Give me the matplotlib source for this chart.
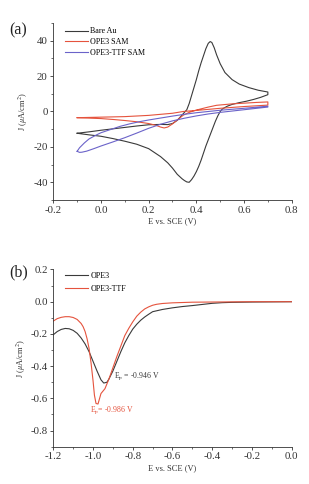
import matplotlib
matplotlib.use("Agg")
import matplotlib.pyplot as plt
from matplotlib.ticker import MultipleLocator

plt.rcParams['font.family'] = ['Liberation Serif', 'DejaVu Serif']
plt.rcParams['mathtext.fontset'] = 'stix'

# ---- Panel (a): cyclic voltammograms ----
au_fwd_x = [-0.10, -0.05, 0.00, 0.05, 0.10, 0.15, 0.20, 0.25, 0.28, 0.30, 0.32, 0.34, 0.35, 0.36, 0.37,
            0.38, 0.39, 0.40, 0.41, 0.42, 0.43, 0.44, 0.45, 0.458, 0.465, 0.475, 0.485, 0.50, 0.52, 0.55,
            0.58, 0.62, 0.66, 0.70]
au_fwd_y = [-12.3, -11.5, -10.6, -9.8, -9.0, -8.2, -7.5, -7.3, -7.4, -6.8, -5.0, -2.0, -0.5, 1.0, 4.5,
            9.0, 13.5, 18.0, 23.0, 27.5, 31.5, 35.5, 38.5, 39.5, 39.0, 36.0, 32.0, 27.0, 22.0, 18.0,
            15.5, 13.5, 12.0, 11.0]
au_rev_x = [0.70, 0.67, 0.64, 0.61, 0.58, 0.55, 0.53, 0.51, 0.50, 0.49, 0.48, 0.47, 0.46, 0.45, 0.44,
            0.43, 0.42, 0.41, 0.40, 0.39, 0.38, 0.37, 0.36, 0.35, 0.34, 0.32, 0.30, 0.28, 0.25, 0.20,
            0.15, 0.10, 0.05, 0.00, -0.05, -0.10]
au_rev_y = [9.5, 8.0, 6.8, 5.8, 5.0, 4.0, 3.0, 1.5, 0.0, -2.5, -5.5, -9.0, -12.5, -16.0, -19.5,
            -23.5, -27.5, -31.0, -34.0, -36.5, -38.5, -40.0, -39.8, -39.0, -38.0, -35.5, -32.0, -29.0, -25.5, -21.0,
            -18.5, -16.8, -15.3, -14.0, -13.2, -12.3]

ope3_a_x = [-0.10, 0.00, 0.05, 0.10, 0.15, 0.20, 0.23, 0.25, 0.265, 0.28, 0.30, 0.32, 0.345, 0.37, 0.40,
            0.45, 0.485, 0.55, 0.60, 0.65, 0.70]
ope3_a_y = [-3.5, -4.0, -4.5, -5.1, -5.8, -6.8, -7.8, -8.8, -9.3, -8.8, -7.0, -4.8, -2.1, -0.5, 0.8,
            2.5, 3.5, 4.3, 4.7, 5.1, 5.4]
ope3_b_x = [0.70, 0.60, 0.50, 0.40, 0.345, 0.30, 0.20, 0.10, 0.00, -0.10]
ope3_b_y = [3.6, 2.8, 1.8, 0.6, 0.0, -1.0, -2.2, -2.9, -3.2, -3.5]

ttf_a_x = [-0.10, -0.09, -0.07, -0.05, -0.02, 0.00, 0.04, 0.08, 0.12, 0.16, 0.20, 0.25, 0.30, 0.35,
           0.40, 0.50, 0.60, 0.70]
ttf_a_y = [-22.5, -20.5, -17.8, -15.5, -13.3, -12.0, -10.2, -8.4, -7.0, -5.8, -4.8, -3.7, -2.6, -1.6,
           -0.7, 0.7, 1.8, 3.0]
ttf_b_x = [0.70, 0.60, 0.50, 0.45, 0.40, 0.35, 0.30, 0.25, 0.20, 0.15, 0.10, 0.05, 0.00, -0.03, -0.06,
           -0.08, -0.09, -0.10]
ttf_b_y = [2.5, 1.0, -0.5, -1.4, -2.5, -3.8, -5.3, -7.2, -9.5, -12.2, -14.8, -17.2, -19.5, -21.0, -22.4,
           -23.0, -23.1, -22.5]

# ---- Panel (b): reductive desorption ----
b_ope3_x = [-1.20, -1.18, -1.16, -1.14, -1.12, -1.10, -1.08, -1.06, -1.04, -1.02, -1.00, -0.98, -0.96,
            -0.946, -0.93, -0.92, -0.90, -0.88, -0.86, -0.84, -0.82, -0.80, -0.78, -0.76, -0.74, -0.72,
            -0.70, -0.65, -0.60, -0.55, -0.50, -0.45, -0.40, -0.35, -0.30, -0.20, -0.10, 0.00]
b_ope3_y = [-0.205, -0.185, -0.172, -0.166, -0.168, -0.178, -0.196, -0.225, -0.262, -0.31, -0.37, -0.43,
            -0.485, -0.505, -0.50, -0.48, -0.43, -0.37, -0.31, -0.255, -0.21, -0.17, -0.14, -0.115, -0.095,
            -0.078, -0.062, -0.048, -0.038, -0.03, -0.024, -0.017, -0.01, -0.006, -0.004, -0.002, -0.001, 0.0]
b_ttf_x = [-1.20, -1.18, -1.16, -1.14, -1.12, -1.10, -1.08, -1.06, -1.05, -1.04, -1.03, -1.02, -1.01,
           -1.00, -0.993, -0.985, -0.975, -0.96, -0.95, -0.94, -0.93, -0.92, -0.90, -0.88, -0.86, -0.84,
           -0.82, -0.80, -0.78, -0.76, -0.74, -0.72, -0.70, -0.68, -0.65, -0.60, -0.55, -0.50, -0.40,
           -0.30, -0.20, -0.10, 0.0]
b_ttf_y = [-0.12, -0.105, -0.097, -0.093, -0.093, -0.098, -0.11, -0.135, -0.155, -0.185, -0.23, -0.29,
           -0.38, -0.49, -0.58, -0.632, -0.635, -0.57, -0.555, -0.54, -0.51, -0.48, -0.41, -0.34, -0.275,
           -0.21, -0.165, -0.125, -0.09, -0.065, -0.045, -0.032, -0.022, -0.016, -0.011, -0.007, -0.005,
           -0.003, -0.002, -0.001, 0.0, 0.0, 0.0]

peak_ope3 = (-0.946, -0.505)
peak_ttf = (-0.986, -0.635)

c_black = '#3a3a3a'
c_red = '#e5533d'
c_blue = '#6b63c9'
lw = 0.8

fig = plt.figure(figsize=(3.09, 4.84), dpi=100)
ax1 = fig.add_axes([0.1725, 0.5868, 0.7715, 0.3657])
ax2 = fig.add_axes([0.1725, 0.0771, 0.7715, 0.3661])

for ax in (ax1, ax2):
    ax.spines['top'].set_visible(False)
    ax.spines['right'].set_visible(False)
    for s in ('left', 'bottom'):
        ax.spines[s].set_linewidth(0.6)
        ax.spines[s].set_color('#333333')
    ax.tick_params(which='major', direction='out', length=2.5, width=0.6, labelsize=7.8, pad=1.5,
                   colors='#333333')
    ax.tick_params(which='minor', direction='out', length=1.5, width=0.5, colors='#333333')

# Panel (a)
ax1.plot(au_fwd_x + au_rev_x, au_fwd_y + au_rev_y, color=c_black, lw=lw, label='Bare Au')
ax1.plot(ope3_a_x + ope3_b_x, ope3_a_y + ope3_b_y, color=c_red, lw=lw, label='OPE3 SAM')
ax1.plot(ttf_a_x + ttf_b_x, ttf_a_y + ttf_b_y, color=c_blue, lw=lw, label='OPE3-TTF SAM')
ax1.set_xlim(-0.2, 0.8)
ax1.set_ylim(-50, 50)
ax1.xaxis.set_minor_locator(MultipleLocator(0.1))
ax1.yaxis.set_minor_locator(MultipleLocator(10))
ax1.set_xticks([-0.2, 0.0, 0.2, 0.4, 0.6, 0.8])
ax1.set_xticklabels(['-0.2', '0.0', '0.2', '0.4', '0.6', '0.8'])
ax1.set_yticks([-40, -20, 0, 20, 40])
ax1.set_yticklabels(['-40', '-20', '0', '20', '40'])
ax1.set_xlabel('E vs. SCE (V)', fontsize=6, labelpad=2, color='#333333')
ax1.set_ylabel(r'J ($\mu$A/cm$^2$)', fontsize=6, labelpad=2, color='#333333')
ax1.legend(loc='upper left', bbox_to_anchor=(0.05, 0.975), frameon=False, fontsize=5.8,
           handlelength=2.8, handletextpad=0.3, labelspacing=0.35, borderpad=0, borderaxespad=0)
fig.text(0.03, 0.937, '(a)', fontsize=11.5, ha='left', va='center', color='#222222')

# Panel (b)
ax2.plot(b_ope3_x, b_ope3_y, color=c_black, lw=lw, label='OPE3')
ax2.plot(b_ttf_x, b_ttf_y, color=c_red, lw=lw, label='OPE3-TTF')
ax2.set_xlim(-1.2, 0.0)
ax2.set_ylim(-0.9, 0.2)
ax2.xaxis.set_minor_locator(MultipleLocator(0.1))
ax2.yaxis.set_minor_locator(MultipleLocator(0.1))
ax2.set_xticks([-1.2, -1.0, -0.8, -0.6, -0.4, -0.2, 0.0])
ax2.set_xticklabels(['-1.2', '-1.0', '-0.8', '-0.6', '-0.4', '-0.2', '0.0'])
ax2.set_yticks([-0.8, -0.6, -0.4, -0.2, 0.0, 0.2])
ax2.set_yticklabels(['-0.8', '-0.6', '-0.4', '-0.2', '0.0', '0.2'])
ax2.set_xlabel('E vs. SCE (V)', fontsize=6, labelpad=2, color='#333333')
ax2.set_ylabel(r'J ($\mu$A/cm$^2$)', fontsize=6, labelpad=2, color='#333333')
ax2.legend(loc='upper left', bbox_to_anchor=(0.05, 0.985), frameon=False, fontsize=5.8,
           handlelength=2.8, handletextpad=0.3, labelspacing=0.55, borderpad=0, borderaxespad=0)
ax2.annotate(r'E$_{\rm p}$ = -0.946 V', xy=peak_ope3, xytext=(-0.895, -0.462), fontsize=5.6,
             color=c_black, va='center', ha='left')
ax2.annotate(r'E$_{\rm p}$= -0.986 V', xy=peak_ttf, xytext=(-1.013, -0.675), fontsize=5.6,
             color=c_red, va='center', ha='left')
fig.text(0.03, 0.438, '(b)', fontsize=11.5, ha='left', va='center', color='#222222')

fig.savefig('out.png', dpi=100)
